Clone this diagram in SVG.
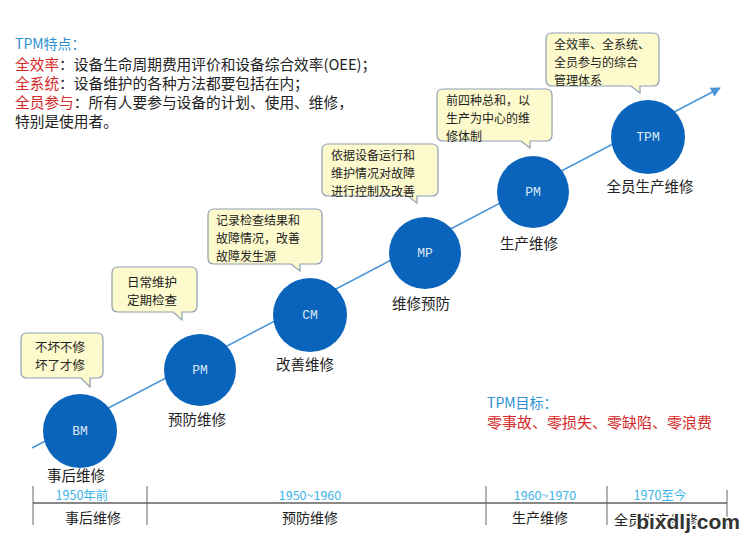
<svg xmlns="http://www.w3.org/2000/svg" width="750" height="538" viewBox="0 0 750 538">
<style>
.cjk{font-family:"Noto Sans CJK SC","Liberation Sans",sans-serif;}
.nt{font-size:14.7px;fill:#222;}
.red{fill:#d42a2a;}
.blue{fill:#2e8fd0;}
.lbl{font-size:14.5px;fill:#222;text-anchor:middle;dominant-baseline:central;}
.co{fill:#fdfbcd;stroke:#8d9fb4;stroke-width:1.2;}
.ct{font-size:12.5px;fill:#222;dominant-baseline:central;}
.ct3{font-size:12px;fill:#222;dominant-baseline:central;}
.node circle{fill:#0b64bb;}
.nl{font-family:"Liberation Mono",monospace;font-size:13px;fill:#dbe8f6;text-anchor:middle;dominant-baseline:central;}
.yr{font-size:12.5px;fill:#3ab4ea;text-anchor:middle;dominant-baseline:central;}
.tl{font-size:14px;fill:#222;text-anchor:middle;dominant-baseline:central;}
</style>
<defs>
<marker id="ah" viewBox="0 0 10 10" refX="9" refY="5" markerWidth="10" markerHeight="10" markerUnits="userSpaceOnUse" orient="auto">
<path d="M0,0 L10,5 L0,10 z" fill="#4a95d6"/>
</marker>
</defs>
<rect width="750" height="538" fill="#ffffff"/>

<g id="features" class="cjk">
<text x="15" y="49" class="nt blue" style="font-size:14px">TPM特点：</text>
<text x="15" y="70" class="nt"><tspan class="red">全效率</tspan>：设备生命周期费用评价和设备综合效率(OEE)；</text>
<text x="15" y="89" class="nt"><tspan class="red">全系统</tspan>：设备维护的各种方法都要包括在内；</text>
<text x="15" y="108" class="nt"><tspan class="red">全员参与</tspan>：所有人要参与设备的计划、使用、维修，</text>
<text x="15" y="127" class="nt">特别是使用者。</text>
</g>

<g id="connectors">
<line x1="32" y1="448" x2="720" y2="88" stroke="#4a95d6" stroke-width="1.6" marker-end="url(#ah)"/>
</g>

<g id="callout-bm" class="cjk">
<path class="co" d="M27,333 H97 Q103,333 103,339 V372 Q103,378 97,378 H90 L90,387 L81,378 H27 Q21,378 21,372 V339 Q21,333 27,333 Z"/>
<text x="35" y="346" class="ct">不坏不修</text>
<text x="35" y="364" class="ct">坏了才修</text>
</g>
<g id="callout-pm1" class="cjk">
<path class="co" d="M118,267 H191 Q197,267 197,273 V306 Q197,312 191,312 H182 L182,320 L173,312 H118 Q112,312 112,306 V273 Q112,267 118,267 Z"/>
<text x="127" y="281" class="ct">日常维护</text>
<text x="127" y="299" class="ct">定期检查</text>
</g>
<g id="callout-cm" class="cjk">
<path class="co" d="M214,209 H316 Q322,209 322,215 V258 Q322,264 316,264 H300 L300,271 L291,264 H214 Q208,264 208,258 V215 Q208,209 214,209 Z"/>
<text x="216" y="219" class="ct3">记录检查结果和</text>
<text x="216" y="237" class="ct3">故障情况，改善</text>
<text x="216" y="255" class="ct3">故障发生源</text>
</g>
<g id="callout-mp" class="cjk">
<path class="co" d="M328,144 H432 Q438,144 438,150 V190 Q438,196 432,196 H417 L417,203 L408,196 H328 Q322,196 322,190 V150 Q322,144 328,144 Z"/>
<text x="331" y="154" class="ct3">依据设备运行和</text>
<text x="331" y="172" class="ct3">维护情况对故障</text>
<text x="331" y="190" class="ct3">进行控制及改善</text>
</g>
<g id="callout-pm2" class="cjk">
<path class="co" d="M443,89 H546 Q552,89 552,95 V135 Q552,141 546,141 H530 L530,148 L521,141 H443 Q437,141 437,135 V95 Q437,89 443,89 Z"/>
<text x="446" y="99" class="ct3">前四种总和，以</text>
<text x="446" y="117" class="ct3">生产为中心的维</text>
<text x="446" y="135" class="ct3">修体制</text>
</g>
<g id="callout-tpm" class="cjk">
<path class="co" d="M552,33 H653 Q659,33 659,39 V80 Q659,86 653,86 H640 L640,93 L631,86 H552 Q546,86 546,80 V39 Q546,33 552,33 Z"/>
<text x="554" y="43" class="ct3">全效率、全系统、</text>
<text x="554" y="61" class="ct3">全员参与的综合</text>
<text x="554" y="79" class="ct3">管理体系</text>
</g>

<g id="node-bm" class="node">
<circle cx="80" cy="431" r="37"/>
<text x="80" y="431" class="nl">BM</text>
<text x="76" y="474" class="cjk lbl">事后维修</text>
</g>
<g id="node-pm1" class="node">
<circle cx="200" cy="370" r="36"/>
<text x="200" y="370" class="nl">PM</text>
<text x="197" y="418" class="cjk lbl">预防维修</text>
</g>
<g id="node-cm" class="node">
<circle cx="310" cy="315" r="37"/>
<text x="310" y="315" class="nl">CM</text>
<text x="305" y="363" class="cjk lbl">改善维修</text>
</g>
<g id="node-mp" class="node">
<circle cx="425" cy="253" r="36"/>
<text x="425" y="253" class="nl">MP</text>
<text x="421" y="302" class="cjk lbl">维修预防</text>
</g>
<g id="node-pm2" class="node">
<circle cx="533" cy="192" r="36"/>
<text x="533" y="192" class="nl">PM</text>
<text x="529" y="242" class="cjk lbl">生产维修</text>
</g>
<g id="node-tpm" class="node">
<circle cx="648" cy="137" r="37"/>
<text x="648" y="137" class="nl">TPM</text>
<text x="650" y="185" class="cjk lbl">全员生产维修</text>
</g>

<g id="goals" class="cjk">
<text x="487" y="408" style="font-size:14px" class="blue">TPM目标：</text>
<text x="487" y="428" style="font-size:15px" class="red">零事故、零损失、零缺陷、零浪费</text>
</g>

<g id="timeline" class="cjk">
<line x1="33" y1="503" x2="727" y2="503" stroke="#888" stroke-width="2"/>
<g stroke="#666" stroke-width="1">
<line x1="33" y1="486" x2="33" y2="525"/>
<line x1="147" y1="486" x2="147" y2="525"/>
<line x1="486" y1="486" x2="486" y2="525"/>
<line x1="607" y1="486" x2="607" y2="525"/>
<line x1="727" y1="490" x2="727" y2="528"/>
</g>
<text x="82" y="494" class="yr">1950年前</text>
<text x="310" y="494" class="yr">1950~1960</text>
<text x="545" y="494" class="yr">1960~1970</text>
<text x="660" y="494" class="yr">1970至今</text>
<text x="93" y="517" class="tl">事后维修</text>
<text x="310" y="517" class="tl">预防维修</text>
<text x="540" y="517" class="tl">生产维修</text>
<text x="614" y="519" class="tl" style="text-anchor:start">全员生产维修</text>
<text x="740" y="521" style="font-family:'Liberation Sans',sans-serif;font-size:21px;font-weight:bold;fill:#333;stroke:#fff;stroke-width:3;paint-order:stroke;text-anchor:end;dominant-baseline:central">bixdlj.com</text>
</g>
</svg>
